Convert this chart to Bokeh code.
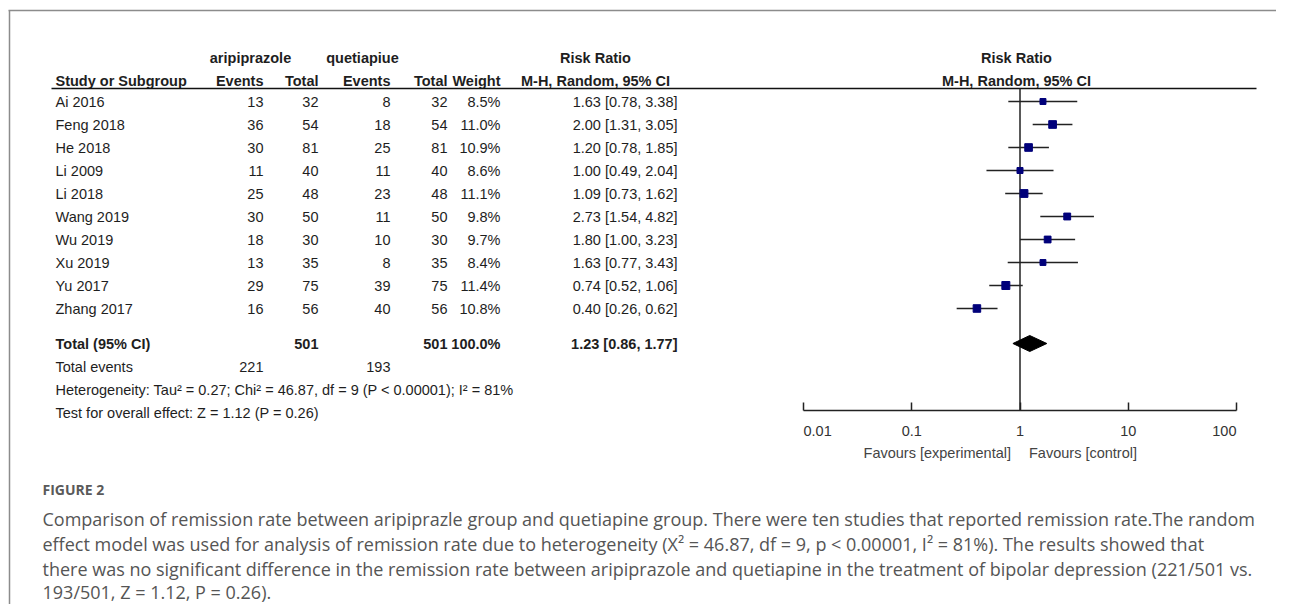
import numpy as np
from bokeh.plotting import figure
from bokeh.models import Range1d, LogScale, LogAxis, FixedTicker
from bokeh.core.properties import value
from bokeh.embed import file_html
from bokeh.resources import INLINE

# ---------------- data ----------------
studies = ["Ai 2016", "Feng 2018", "He 2018", "Li 2009", "Li 2018",
           "Wang 2019", "Wu 2019", "Xu 2019", "Yu 2017", "Zhang 2017"]
arip_events = [13, 36, 30, 11, 25, 30, 18, 13, 29, 16]
arip_total = [32, 54, 81, 40, 48, 50, 30, 35, 75, 56]
quet_events = [8, 18, 25, 11, 23, 11, 10, 8, 39, 40]
quet_total = [32, 54, 81, 40, 48, 50, 30, 35, 75, 56]
weight = [8.5, 11.0, 10.9, 8.6, 11.1, 9.8, 9.7, 8.4, 11.4, 10.8]
rr = [1.63, 2.00, 1.20, 1.00, 1.09, 2.73, 1.80, 1.63, 0.74, 0.40]
ci_low = [0.78, 1.31, 0.78, 0.49, 0.73, 1.54, 1.00, 0.77, 0.52, 0.26]
ci_high = [3.38, 3.05, 1.85, 2.04, 1.62, 4.82, 3.23, 3.43, 1.06, 0.62]

total_arip = 501
total_quet = 501
events_arip = 221
events_quet = 193
total_weight = 100.0
total_rr = 1.23
total_low = 0.86
total_high = 1.77

axis_ticks = [0.01, 0.1, 1, 10, 100]
axis_tick_labels = ["0.01", "0.1", "1", "10", "100"]
null_value = 1

heterogeneity = "Heterogeneity: Tau\u00b2 = 0.27; Chi\u00b2 = 46.87, df = 9 (P < 0.00001); I\u00b2 = 81%"
overall = "Test for overall effect: Z = 1.12 (P = 0.26)"
caption_title = "FIGURE 2"
caption_lines = [
    "Comparison of remission rate between aripiprazle group and quetiapine group. There were ten studies that reported remission rate.The random",
    "effect model was used for analysis of remission rate due to heterogeneity (X\u00b2 = 46.87, df = 9, p < 0.00001, I\u00b2 = 81%). The results showed that",
    "there was no significant difference in the remission rate between aripiprazole and quetiapine in the treatment of bipolar depression (221/501 vs.",
    "193/501, Z = 1.12, P = 0.26).",
]

# ---------------- layout (picture pixel coordinates) ----------------
FW, FH = 1276, 604
X_001 = 803.0          # x of RR = 0.01
DEC = 108.25           # pixels per decade
lo_exp = -2 - X_001 / DEC
hi_exp = 2 + (FW - (X_001 + 4 * DEC)) / DEC

FONT = value("Liberation Sans")
FS = "14.5px"
TXT = "#1e1e1e"

p = figure(frame_width=FW, frame_height=FH, output_backend="svg",
           toolbar_location=None, x_axis_type=None, y_axis_type=None,
           x_range=Range1d(0, FW), y_range=Range1d(FH, 0),
           min_border=0, outline_line_color=None)
p.grid.visible = False
p.extra_x_ranges = {"rr": Range1d(10 ** lo_exp, 10 ** hi_exp)}
p.extra_x_scales = {"rr": LogScale()}

y_h1, y_h2, y_rule = 57, 80, 88
row0, step = 101, 23
ys = [row0 + i * step for i in range(len(studies))]
y_total, y_tev, y_het, y_test = 343, 366, 389, 412
y_axis, y_ticklab, y_fav = 410, 430, 452

# border
p.segment(x0=[9], y0=[10], x1=[9], y1=[FH], line_color="#8c8c8c", line_width=1.5)
p.segment(x0=[8], y0=[10], x1=[FW], y1=[10], line_color="#8c8c8c", line_width=1.5)


def txt(x, y, t, align="left", bold=False, color=TXT, size=FS, font=FONT, **kw):
    p.text(x=x, y=y, text=t, text_align=align, text_baseline="middle",
           text_font=font, text_font_size=size, text_color=color,
           text_font_style="bold" if bold else "normal", **kw)


# header
txt([250], [y_h1], ["aripiprazole"], "center", True)
txt([362], [y_h1], ["quetiapiue"], "center", True)
txt([595], [y_h1], ["Risk Ratio"], "center", True)
txt([1016], [y_h1], ["Risk Ratio"], "center", True)
txt([55], [y_h2], ["Study or Subgroup"], "left", True)
txt([263, 318, 390, 447, 500], [y_h2] * 5,
    ["Events", "Total", "Events", "Total", "Weight"], "right", True)
txt([595], [y_h2], ["M-H, Random, 95% CI"], "center", True)
txt([1016], [y_h2], ["M-H, Random, 95% CI"], "center", True)
p.segment(x0=[51], y0=[y_rule], x1=[1256], y1=[y_rule], line_color="#111", line_width=1.5)

# study rows
txt([55] * len(ys), ys, studies)
txt([263] * len(ys), ys, [str(v) for v in arip_events], "right")
txt([318] * len(ys), ys, [str(v) for v in arip_total], "right")
txt([390] * len(ys), ys, [str(v) for v in quet_events], "right")
txt([447] * len(ys), ys, [str(v) for v in quet_total], "right")
txt([500] * len(ys), ys, [f"{w:.1f}%" for w in weight], "right")
txt([677] * len(ys), ys,
    [f"{r:.2f} [{a:.2f}, {b:.2f}]" for r, a, b in zip(rr, ci_low, ci_high)], "right")

# totals
txt([55], [y_total], ["Total (95% CI)"], "left", True)
txt([318, 447, 500], [y_total] * 3,
    [str(total_arip), str(total_quet), f"{total_weight:.1f}%"], "right", True)
txt([677], [y_total], [f"{total_rr:.2f} [{total_low:.2f}, {total_high:.2f}]"], "right", True)
txt([55], [y_tev], ["Total events"])
txt([263, 390], [y_tev] * 2, [str(events_arip), str(events_quet)], "right")
txt([55], [y_het], [heterogeneity])
txt([55], [y_test], [overall])

# forest plot
p.segment(x0=[null_value], y0=[y_rule], x1=[null_value], y1=[y_axis],
          line_color="#222", line_width=1.5, x_range_name="rr")
p.segment(x0=ci_low, y0=ys, x1=ci_high, y1=ys, line_color="#222",
          line_width=1.5, x_range_name="rr")
p.scatter(x=rr, y=ys, marker="square", size=[w * 0.7 for w in weight],
          fill_color="#00007a", line_color="#00007a", x_range_name="rr")
dh = 8
p.patch(x=[total_low, total_rr, total_high, total_rr],
        y=[y_total, y_total - dh, y_total, y_total + dh],
        fill_color="black", line_color="black", x_range_name="rr")

ax = LogAxis(x_range_name="rr", ticker=FixedTicker(ticks=axis_ticks, minor_ticks=[]),
             bounds=(axis_ticks[0], axis_ticks[-1]), fixed_location=y_axis,
             major_tick_in=8, major_tick_out=0, minor_tick_in=0, minor_tick_out=0,
             major_label_text_font_size="1px", major_label_text_alpha=0,
             major_label_standoff=0,
             axis_line_width=1.5, axis_line_color="#222",
             major_tick_line_width=1.5, major_tick_line_color="#222")
p.add_layout(ax, "below")

tick_align = ["left"] + ["center"] * (len(axis_ticks) - 2) + ["right"]
p.text(x=axis_ticks, y=[y_ticklab] * len(axis_ticks), text=axis_tick_labels,
       text_align=tick_align, text_baseline="middle", text_font=FONT,
       text_font_size=FS, text_color="#333", x_range_name="rr")
p.text(x=[null_value, null_value], y=[y_fav, y_fav],
       text=["Favours [experimental]", "Favours [control]"],
       text_align=["right", "left"], x_offset=[-9, 9], text_baseline="middle",
       text_font=FONT, text_font_size=FS, text_color="#444", x_range_name="rr")

# caption
CAP = value("Open Sans")
txt([42], [489], [caption_title], "left", True, "#5a5a5a", "14px", CAP)
txt([42] * 4, [518, 543, 568, 591], caption_lines, "left", False, "#555555", "18px", CAP)

open("out.html", "w").write(file_html(p, INLINE))
